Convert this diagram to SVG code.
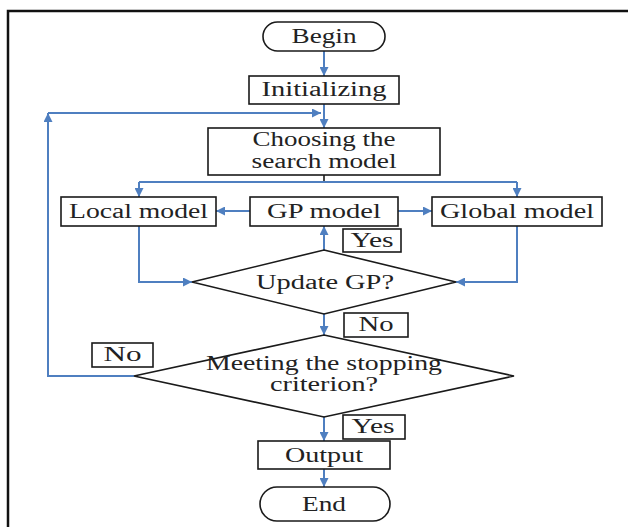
<svg xmlns="http://www.w3.org/2000/svg" width="628" height="527" viewBox="0 0 628 527">
<style>
.b{fill:#fff;stroke:#1a1a1a;stroke-width:1.6}
.t{font-family:"Liberation Serif","Times New Roman",serif;font-size:20px;fill:#222;text-anchor:middle}
.c{fill:none;stroke:#4f7fc0;stroke-width:2}
.k{fill:none;stroke:#1a1a1a;stroke-width:1.6}
</style>
<defs>
<marker id="ah" viewBox="0 0 10 10" refX="10" refY="5" markerWidth="11" markerHeight="9" markerUnits="userSpaceOnUse" orient="auto">
<path d="M0,0 L10,5 L0,10 z" fill="#4f7fc0"/>
</marker>
</defs>
<rect width="628" height="527" fill="#fff"/>
<path d="M8,527 V11 H628" fill="none" stroke="#111" stroke-width="2.5"/>

<g id="connectors">
<path class="c" d="M324,51 V76" marker-end="url(#ah)"/>
<path class="c" d="M324,104 V128" marker-end="url(#ah)"/>
<path class="c" d="M134,376 H48 V113" marker-end="url(#ah)"/>
<path class="c" d="M48,113 H321" marker-end="url(#ah)"/>
<path class="k" d="M324,175 V182"/>
<path class="c" d="M139,182 H517"/>
<path class="c" d="M139,182 V197" marker-end="url(#ah)"/>
<path class="c" d="M517,182 V197" marker-end="url(#ah)"/>
<path class="c" d="M250,211 H216" marker-end="url(#ah)"/>
<path class="c" d="M398,211 H432" marker-end="url(#ah)"/>
<path class="c" d="M324,250 V226" marker-end="url(#ah)"/>
<path class="c" d="M139,226 V282 H192" marker-end="url(#ah)"/>
<path class="c" d="M517,226 V282 H456" marker-end="url(#ah)"/>
<path class="c" d="M324,314 V335" marker-end="url(#ah)"/>
<path class="c" d="M324,417 V441" marker-end="url(#ah)"/>
<path class="c" d="M324,469 V487" marker-end="url(#ah)"/>
</g>

<g id="begin">
<rect class="b" x="263" y="22" width="122" height="29" rx="14.5"/>
<text class="t" x="324" y="43" textLength="65" lengthAdjust="spacingAndGlyphs">Begin</text>
</g>
<g id="initializing">
<rect class="b" x="249" y="76" width="150" height="28"/>
<text class="t" x="324" y="96" textLength="125" lengthAdjust="spacingAndGlyphs">Initializing</text>
</g>
<g id="choosing">
<rect class="b" x="208" y="128" width="232" height="47"/>
<text class="t" x="324" y="146" textLength="143" lengthAdjust="spacingAndGlyphs">Choosing the</text>
<text class="t" x="324" y="168" textLength="145" lengthAdjust="spacingAndGlyphs">search model</text>
</g>
<g id="local">
<rect class="b" x="61" y="197" width="155" height="29"/>
<text class="t" x="138.5" y="218" textLength="139" lengthAdjust="spacingAndGlyphs">Local model</text>
</g>
<g id="gp">
<rect class="b" x="250" y="197" width="148" height="29"/>
<text class="t" x="324" y="218" textLength="114" lengthAdjust="spacingAndGlyphs">GP model</text>
</g>
<g id="global">
<rect class="b" x="432" y="197" width="170" height="29"/>
<text class="t" x="517" y="218" textLength="154" lengthAdjust="spacingAndGlyphs">Global model</text>
</g>
<g id="yes1">
<rect class="b" x="343" y="229" width="58" height="23"/>
<text class="t" x="372" y="247" textLength="43" lengthAdjust="spacingAndGlyphs">Yes</text>
</g>
<g id="update">
<polygon class="b" points="324,250 456,282 324,314 192,282"/>
<text class="t" x="325" y="289" textLength="138" lengthAdjust="spacingAndGlyphs">Update GP?</text>
</g>
<g id="no1">
<rect class="b" x="344" y="313" width="64" height="24"/>
<text class="t" x="376" y="331" textLength="35" lengthAdjust="spacingAndGlyphs">No</text>
</g>
<g id="stop">
<polygon class="b" points="324,335 514,376 324,417 134,376"/>
<text class="t" x="324" y="370" textLength="236" lengthAdjust="spacingAndGlyphs">Meeting the stopping</text>
<text class="t" x="324" y="391" textLength="108" lengthAdjust="spacingAndGlyphs">criterion?</text>
</g>
<g id="no2">
<rect class="b" x="92" y="343" width="61" height="24"/>
<text class="t" x="122.5" y="361" textLength="38" lengthAdjust="spacingAndGlyphs">No</text>
</g>
<g id="yes2">
<rect class="b" x="343" y="415" width="62" height="24"/>
<text class="t" x="373" y="433" textLength="43" lengthAdjust="spacingAndGlyphs">Yes</text>
</g>
<g id="output">
<rect class="b" x="258" y="441" width="132" height="28"/>
<text class="t" x="324" y="462" textLength="78" lengthAdjust="spacingAndGlyphs">Output</text>
</g>
<g id="end">
<rect class="b" x="260" y="487" width="130" height="34" rx="17"/>
<text class="t" x="324" y="511" textLength="44" lengthAdjust="spacingAndGlyphs">End</text>
</g>
</svg>
